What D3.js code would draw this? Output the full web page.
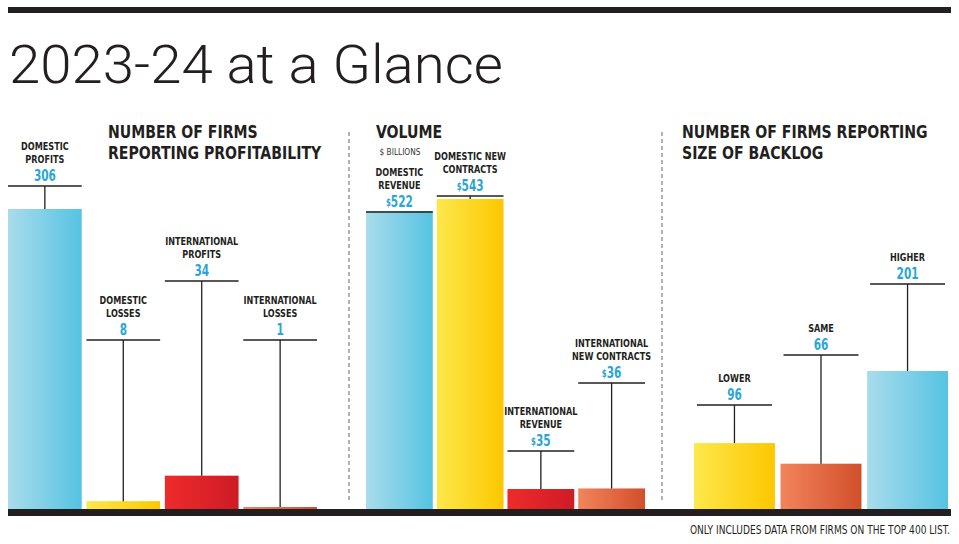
<!DOCTYPE html>
<html>
<head>
<meta charset="utf-8">
<script src="https://cdn.jsdelivr.net/npm/d3@7"></script>
<style>
  html, body { margin: 0; padding: 0; background: #fff; }
  svg { display: block; }
</style>
</head>
<body>
<svg id="chart"></svg>
<script>
const profitLabels = [["DOMESTIC", "PROFITS"], ["DOMESTIC", "LOSSES"], ["INTERNATIONAL", "PROFITS"], ["INTERNATIONAL", "LOSSES"]];
const profitValues = [306, 8, 34, 1];

const volumeLabels = [["DOMESTIC", "REVENUE"], ["DOMESTIC NEW", "CONTRACTS"], ["INTERNATIONAL", "REVENUE"], ["INTERNATIONAL", "NEW CONTRACTS"]];
const volumeValues = [522, 543, 35, 36];

const backlogLabels = [["LOWER"], ["SAME"], ["HIGHER"]];
const backlogValues = [96, 66, 201];

const W = 959, H = 544;
const base = 509;           // bars sit on the bottom rule
const ink = "#231f20";
const cyan = "#2ba6d4";
const narrow = "'Liberation Sans Narrow', 'Arial Narrow', 'DejaVu Sans Condensed', sans-serif";

const gradients = {
  blue:   ["#a9dcec", "#55c3e2"],
  yellow: ["#fde84c", "#fdc700"],
  red:    ["#ee2b2b", "#cf1b25"],
  orange: ["#f2845c", "#d24f2b"]
};

const svg = d3.select("#chart").attr("width", W).attr("height", H);
const defs = svg.append("defs");

Object.entries(gradients).forEach(([name, c]) =>
{
  const g = defs.append("linearGradient")
    .attr("id", `grad-${ name }`)
    .attr("x1", "0%").attr("y1", "0%")
    .attr("x2", "100%").attr("y2", "0%");
  g.append("stop").attr("offset", "0%").attr("stop-color", c[0]);
  g.append("stop").attr("offset", "100%").attr("stop-color", c[1]);
});

// no narrow face installed, so squeeze the condensed one horizontally
const squeezed = (parent, x, sx) =>
  parent.append("g").attr("transform", `translate(${ x },0) scale(${ sx },1)`);

// top rule + title
svg.append("rect").attr("x", 8).attr("y", 7).attr("width", 943).attr("height", 6).attr("fill", ink);

svg.append("text")
  .attr("x", 9).attr("y", 83)
  .attr("textLength", 494)
  .attr("lengthAdjust", "spacingAndGlyphs")
  .style("font-family", "Roboto, 'Liberation Sans', sans-serif")
  .style("font-weight", 300)
  .style("font-size", "54px")
  .attr("fill", ink)
  .text("2023-24 at a Glance");

// panels
const panels = [
  {
    labels: profitLabels, values: profitValues,
    range: [8, 317], padding: 0.06, topPx: 209,
    callout: [186, 340, 281, 340], lineW: 75, prefix: "",
    colors: ["blue", "yellow", "red", "orange"],
    header: { x: 108, lines: ["NUMBER OF FIRMS", "REPORTING PROFITABILITY"] }
  },
  {
    labels: volumeLabels, values: volumeValues,
    range: [366, 645], padding: 0.056, topPx: 199,
    callout: [212, 196, 451, 383], lineW: 67, prefix: "$",
    colors: ["blue", "yellow", "red", "orange"],
    header: { x: 376, lines: ["VOLUME"] }
  },
  {
    labels: backlogLabels, values: backlogValues,
    range: [694, 948], padding: 0.065, topPx: 371,
    callout: [405, 355, 284], lineW: 75, prefix: "",
    colors: ["yellow", "orange", "blue"],
    header: { x: 682, lines: ["NUMBER OF FIRMS REPORTING", "SIZE OF BACKLOG"] }
  }
];

panels.forEach(p =>
{
  const idx = d3.range(p.values.length);
  const x = d3.scaleBand().domain(idx).range(p.range).paddingInner(p.padding);
  const y = d3.scaleLinear().domain([0, d3.max(p.values)]).range([base, p.topPx]);
  const g = svg.append("g");

  // header
  squeezed(g, p.header.x, 0.87).append("text")
    .attr("x", 0).attr("y", 138)
    .style("font-family", narrow).style("font-weight", "bold").style("font-size", "18px")
    .attr("fill", ink)
    .selectAll("tspan").data(p.header.lines).enter().append("tspan")
    .attr("x", 0).attr("dy", (d, i) => i ? 21 : 0)
    .text(d => d);

  // bars
  g.selectAll("rect.bar").data(idx).enter().append("rect")
    .attr("class", "bar")
    .attr("x", i => x(i))
    .attr("width", x.bandwidth())
    .attr("y", i => Math.min(y(p.values[i]), base - 2))
    .attr("height", i => Math.max(base - y(p.values[i]), 2))
    .attr("fill", i => `url(#grad-${ p.colors[i] })`);

  // callouts
  idx.forEach(i =>
  {
    const cx = x(i) + x.bandwidth() / 2;
    const ly = p.callout[i];
    const top = Math.min(y(p.values[i]), base - 2);
    const lw = Math.min(p.lineW, x.bandwidth());

    g.append("line")
      .attr("x1", cx - lw / 2).attr("x2", cx + lw / 2)
      .attr("y1", ly).attr("y2", ly)
      .attr("stroke", ink).attr("stroke-width", 1.3);
    if (top - ly > 1)
    {
      g.append("line")
        .attr("x1", cx).attr("x2", cx)
        .attr("y1", ly).attr("y2", top)
        .attr("stroke", ink).attr("stroke-width", 1.3);
    }

    const vy = ly - 4.5;
    const val = squeezed(g, cx, 0.78).append("text")
      .attr("x", 0).attr("y", vy)
      .attr("text-anchor", "middle")
      .style("font-family", narrow).style("font-weight", "bold")
      .attr("fill", cyan);
    if (p.prefix)
    {
      val.append("tspan").style("font-size", "10px").attr("dy", -1.5).text(p.prefix);
      val.append("tspan").style("font-size", "15px").attr("dy", 1.5).text(p.values[i]);
    }
    else
    {
      val.append("tspan").style("font-size", "15px").text(p.values[i]);
    }

    const lines = p.labels[i];
    squeezed(g, cx, 0.82).append("text")
      .attr("text-anchor", "middle")
      .style("font-family", narrow).style("font-weight", "bold").style("font-size", "11px")
      .attr("fill", ink)
      .selectAll("tspan").data(lines).enter().append("tspan")
      .attr("x", 0)
      .attr("y", (d, j) => vy - 18 - (lines.length - 1 - j) * 13)
      .text(d => d);
  });
});

// "$ BILLIONS" note under VOLUME
squeezed(svg, 400, 0.87).append("text")
  .attr("x", 0).attr("y", 155)
  .attr("text-anchor", "middle")
  .style("font-family", narrow).style("font-size", "9.5px")
  .attr("fill", "#333")
  .text("$ BILLIONS");

// dashed separators
[349, 662].forEach(sx =>
{
  svg.append("line")
    .attr("x1", sx).attr("x2", sx)
    .attr("y1", 132).attr("y2", 500)
    .attr("stroke", "#666").attr("stroke-width", 1)
    .attr("stroke-dasharray", "4,3");
});

// bottom rule + footnote
svg.append("rect").attr("x", 8).attr("y", base).attr("width", 943).attr("height", 7).attr("fill", ink);

squeezed(svg, 950, 0.84).append("text")
  .attr("x", 0).attr("y", 534)
  .attr("text-anchor", "end")
  .style("font-family", narrow).style("font-size", "12px")
  .attr("fill", ink)
  .text("ONLY INCLUDES DATA FROM FIRMS ON THE TOP 400 LIST.");
</script>
</body>
</html>
